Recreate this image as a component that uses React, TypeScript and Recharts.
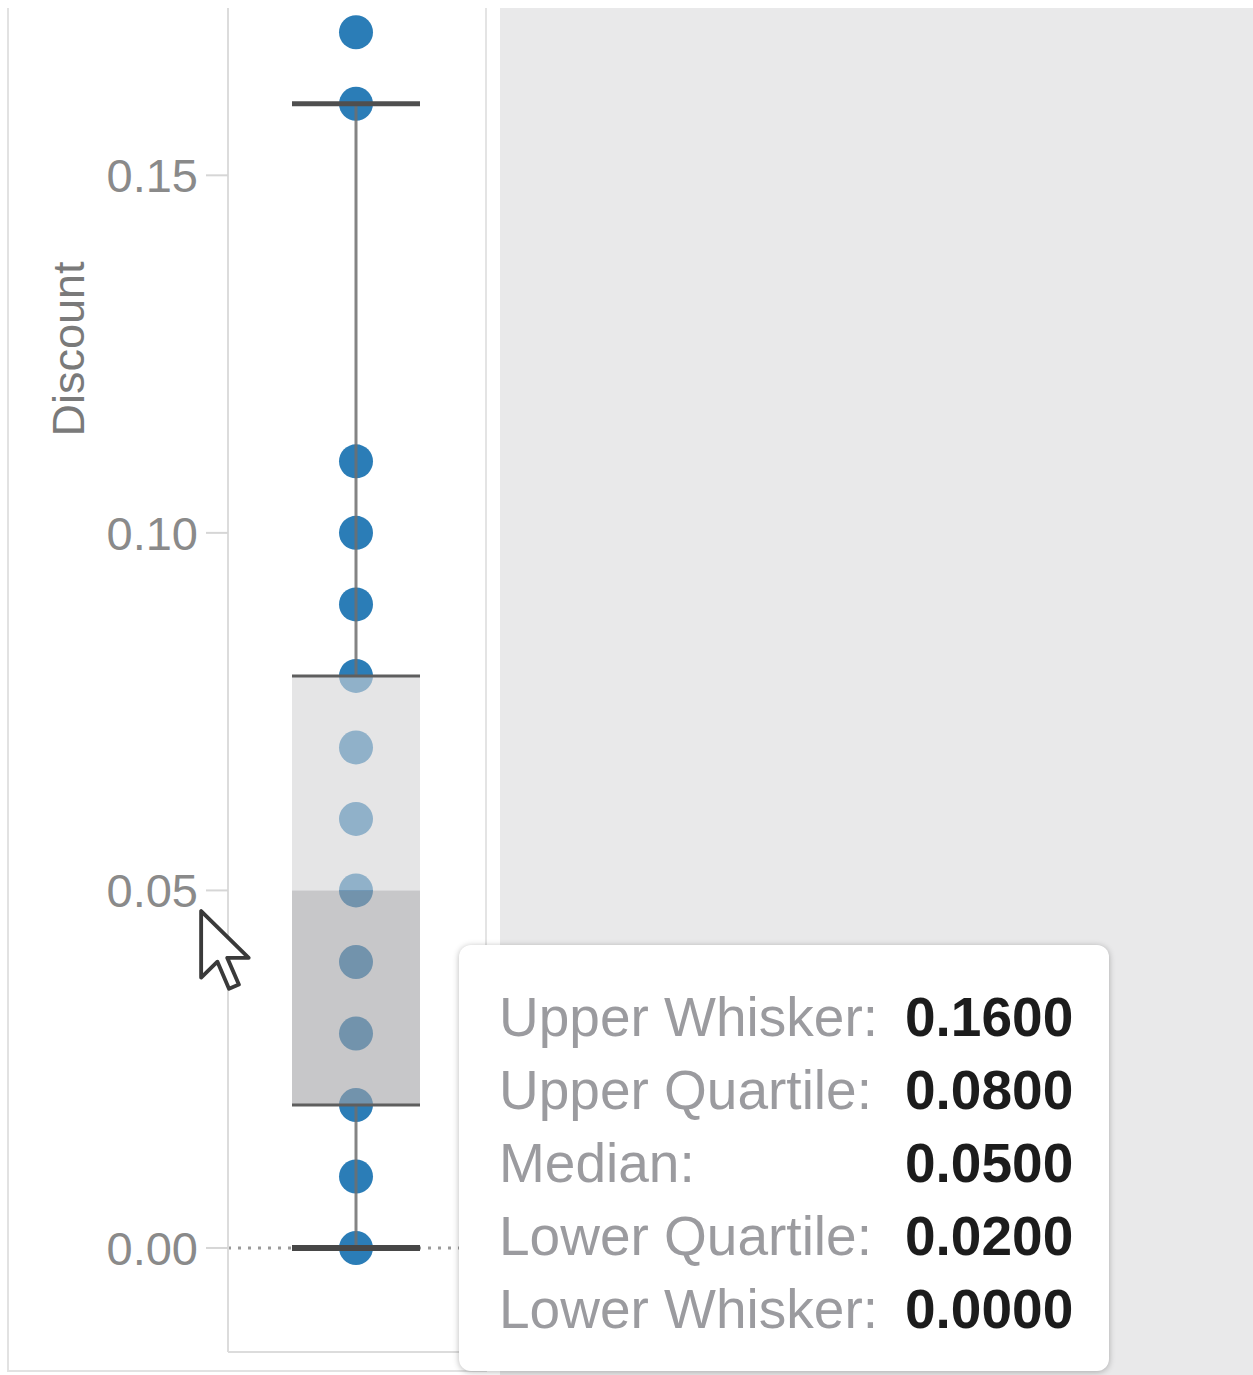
import {
  ComposedChart,
  Scatter,
  XAxis,
  YAxis,
  ReferenceArea,
  ReferenceLine,
} from 'recharts';

// Discount values shown as dots (one per distinct value)
const discountValues = [0, 0.01, 0.02, 0.03, 0.04, 0.05, 0.06, 0.07, 0.08, 0.09, 0.1, 0.11, 0.16, 0.17];

// Box plot statistics, as in the tooltip
const statLabels = ['Upper Whisker:', 'Upper Quartile:', 'Median:', 'Lower Quartile:', 'Lower Whisker:'];
const statValues = [0.16, 0.08, 0.05, 0.02, 0.0];

const yTicks = [0, 0.05, 0.1, 0.15];

const [upperWhisker, upperQuartile, median, lowerQuartile, lowerWhisker] = statValues;

const FONT = '"Liberation Sans", Arial, Helvetica, sans-serif';
const BLUE = '#2b7db7';

// box spans the middle half of the single column
const BOX_LEFT = 0.25;
const BOX_RIGHT = 0.75;
const CENTER = 0.5;

const points = discountValues.map((v) => ({ x: CENTER, y: v }));

function Dot(props: { cx?: number; cy?: number }) {
  const { cx, cy } = props;
  if (cx == null || cy == null) return null;
  return <circle cx={cx} cy={cy} r={17} fill={BLUE} />;
}

function Cursor() {
  return (
    <svg
      width={60}
      height={90}
      viewBox="0 0 14 21"
      style={{ position: 'absolute', left: 199, top: 909 }}
    >
      <path
        d="M0.5,0.5 L0.5,16 L4.3,12.3 L7,18.6 L9.3,17.6 L6.6,11.4 L11.6,11.4 Z"
        fill="#fff"
        stroke="#3a3a3a"
        strokeWidth={0.9}
        strokeLinejoin="round"
      />
    </svg>
  );
}

function StatsTooltip() {
  return (
    <div
      style={{
        position: 'absolute',
        left: 459,
        top: 945,
        width: 650,
        height: 426,
        background: '#fff',
        borderRadius: 12,
        boxShadow: '0 1px 6px rgba(0,0,0,0.28)',
        fontFamily: FONT,
        fontSize: 55,
        boxSizing: 'border-box',
        paddingTop: 36,
        paddingLeft: 40,
      }}
    >
      {statLabels.map((label, i) => (
        <div key={label} style={{ display: 'flex', height: 73, lineHeight: '73px' }}>
          <span style={{ width: 406, color: '#9b9b9f' }}>{label}</span>
          <span style={{ color: '#1c1c1c', fontWeight: 'bold' }}>
            {statValues[i].toFixed(4)}
          </span>
        </div>
      ))}
    </div>
  );
}

export default function App() {
  return (
    <div
      style={{
        position: 'absolute',
        left: 0,
        top: 0,
        width: 1253,
        height: 1375,
        background: '#fff',
        overflow: 'hidden',
      }}
    >
      {/* left pane frame */}
      <div
        style={{
          position: 'absolute',
          left: 7,
          top: 8,
          width: 480,
          height: 1364,
          borderLeft: '2px solid #e2e2e2',
          borderBottom: '2px solid #e2e2e2',
          borderRight: '2px solid #e4e4e4',
          boxSizing: 'border-box',
        }}
      />
      {/* plot bottom edge */}
      <div
        style={{
          position: 'absolute',
          left: 228,
          top: 1351,
          width: 257,
          height: 2,
          background: '#dcdcdc',
        }}
      />
      {/* empty gray pane */}
      <div
        style={{
          position: 'absolute',
          left: 500,
          top: 8,
          width: 753,
          height: 1367,
          background: '#e9e9ea',
        }}
      />

      <div style={{ position: 'absolute', left: 0, top: 0 }}>
        <ComposedChart
          width={1253}
          height={1375}
          data={points}
          margin={{ top: 8, right: 769, bottom: 23, left: 0 }}
        >
          <XAxis
            type="number"
            dataKey="x"
            domain={[0, 1]}
            height={0}
            tick={false}
            tickLine={false}
            axisLine={false}
          />
          <YAxis
            type="number"
            dataKey="y"
            width={228}
            domain={[-0.01455, 0.1734]}
            allowDataOverflow
            ticks={yTicks}
            tickFormatter={(v: number) => v.toFixed(2)}
            tick={{ fill: '#8a8a8a', fontSize: 47, fontFamily: FONT }}
            tickSize={22}
            tickMargin={8}
            tickLine={{ stroke: '#d6d6d6', strokeWidth: 2 }}
            axisLine={{ stroke: '#dcdcdc', strokeWidth: 2 }}
            label={{
              content: () => (
                <text
                  x={84}
                  y={349}
                  transform="rotate(-90 84 349)"
                  textAnchor="middle"
                  fill="#7a7a7a"
                  fontSize={45}
                  fontFamily={FONT}
                >
                  Discount
                </text>
              ),
            }}
          />

          {/* dotted zero line */}
          <ReferenceLine y={0} stroke="#9a9a9a" strokeWidth={3} strokeDasharray="3 7" />

          <Scatter data={points} shape={<Dot />} isAnimationActive={false} />

          {/* box: Q3 to median, median to Q1 */}
          <ReferenceArea
            x1={BOX_LEFT}
            x2={BOX_RIGHT}
            y1={median}
            y2={upperQuartile}
            fill="#d4d4d6"
            fillOpacity={0.6}
            stroke="none"
            zIndex={700}
          />
          <ReferenceArea
            x1={BOX_LEFT}
            x2={BOX_RIGHT}
            y1={lowerQuartile}
            y2={median}
            fill="#a2a2a5"
            fillOpacity={0.6}
            stroke="none"
            zIndex={700}
          />

          {/* whiskers */}
          <ReferenceLine
            segment={[{ x: CENTER, y: upperQuartile }, { x: CENTER, y: upperWhisker }]}
            stroke="#6e6e6e"
            strokeWidth={3}
            strokeOpacity={0.85}
            zIndex={700}
          />
          <ReferenceLine
            segment={[{ x: CENTER, y: lowerWhisker }, { x: CENTER, y: lowerQuartile }]}
            stroke="#6e6e6e"
            strokeWidth={3}
            strokeOpacity={0.85}
            zIndex={700}
          />
          <ReferenceLine
            segment={[{ x: BOX_LEFT, y: upperWhisker }, { x: BOX_RIGHT, y: upperWhisker }]}
            stroke="#4f4f4f"
            strokeWidth={5}
            zIndex={700}
          />
          <ReferenceLine
            segment={[{ x: BOX_LEFT, y: upperQuartile }, { x: BOX_RIGHT, y: upperQuartile }]}
            stroke="#5e5e5e"
            strokeWidth={3}
            zIndex={700}
          />
          <ReferenceLine
            segment={[{ x: BOX_LEFT, y: lowerQuartile }, { x: BOX_RIGHT, y: lowerQuartile }]}
            stroke="#5e5e5e"
            strokeWidth={3}
            zIndex={700}
          />
          <ReferenceLine
            segment={[{ x: BOX_LEFT, y: lowerWhisker }, { x: BOX_RIGHT, y: lowerWhisker }]}
            stroke="#474747"
            strokeWidth={6}
            zIndex={700}
          />
        </ComposedChart>
      </div>

      <Cursor />
      <StatsTooltip />
    </div>
  );
}
